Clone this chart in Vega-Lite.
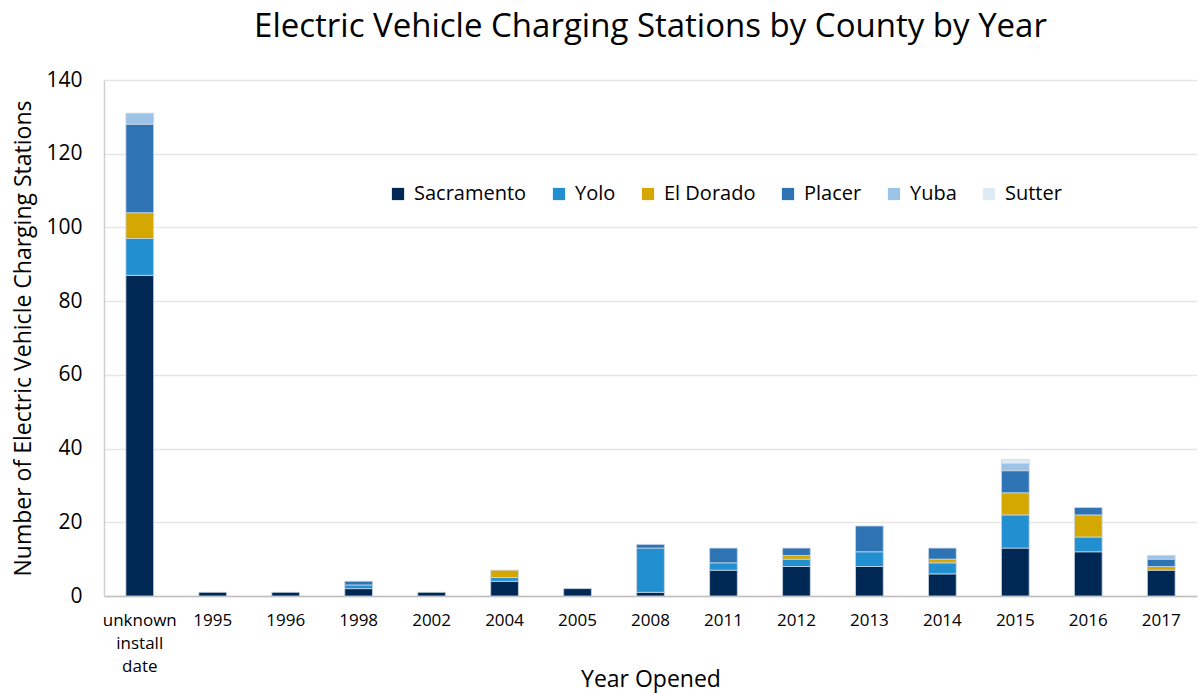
{
  "$schema": "https://vega.github.io/schema/vega-lite/v6.json",
  "width": 1199,
  "height": 693,
  "autosize": {"type": "fit", "contains": "padding"},
  "padding": {"left": 12, "right": 2, "top": 11, "bottom": 2},
  "background": "white",
  "title": {"text": "Electric Vehicle Charging Stations by County by Year", "font": "Open Sans", "fontSize": 33, "fontWeight": "normal", "color": "#000000", "offset": 25},
  "config": {
    "view": {"stroke": null},
    "font": "Open Sans"
  },
  "datasets": {
    "stations": [
      {"year": "unknown install date", "county": "Sacramento", "order": 1, "count": 87},
      {"year": "unknown install date", "county": "Yolo", "order": 2, "count": 10},
      {"year": "unknown install date", "county": "El Dorado", "order": 3, "count": 7},
      {"year": "unknown install date", "county": "Placer", "order": 4, "count": 24},
      {"year": "unknown install date", "county": "Yuba", "order": 5, "count": 3},
      {"year": "1995", "county": "Sacramento", "order": 1, "count": 1},
      {"year": "1996", "county": "Sacramento", "order": 1, "count": 1},
      {"year": "1998", "county": "Sacramento", "order": 1, "count": 2},
      {"year": "1998", "county": "Yolo", "order": 2, "count": 1},
      {"year": "1998", "county": "Placer", "order": 4, "count": 1},
      {"year": "2002", "county": "Sacramento", "order": 1, "count": 1},
      {"year": "2004", "county": "Sacramento", "order": 1, "count": 4},
      {"year": "2004", "county": "Yolo", "order": 2, "count": 1},
      {"year": "2004", "county": "El Dorado", "order": 3, "count": 2},
      {"year": "2005", "county": "Sacramento", "order": 1, "count": 2},
      {"year": "2008", "county": "Sacramento", "order": 1, "count": 1},
      {"year": "2008", "county": "Yolo", "order": 2, "count": 12},
      {"year": "2008", "county": "Placer", "order": 4, "count": 1},
      {"year": "2011", "county": "Sacramento", "order": 1, "count": 7},
      {"year": "2011", "county": "Yolo", "order": 2, "count": 2},
      {"year": "2011", "county": "Placer", "order": 4, "count": 4},
      {"year": "2012", "county": "Sacramento", "order": 1, "count": 8},
      {"year": "2012", "county": "Yolo", "order": 2, "count": 2},
      {"year": "2012", "county": "El Dorado", "order": 3, "count": 1},
      {"year": "2012", "county": "Placer", "order": 4, "count": 2},
      {"year": "2013", "county": "Sacramento", "order": 1, "count": 8},
      {"year": "2013", "county": "Yolo", "order": 2, "count": 4},
      {"year": "2013", "county": "Placer", "order": 4, "count": 7},
      {"year": "2014", "county": "Sacramento", "order": 1, "count": 6},
      {"year": "2014", "county": "Yolo", "order": 2, "count": 3},
      {"year": "2014", "county": "El Dorado", "order": 3, "count": 1},
      {"year": "2014", "county": "Placer", "order": 4, "count": 3},
      {"year": "2015", "county": "Sacramento", "order": 1, "count": 13},
      {"year": "2015", "county": "Yolo", "order": 2, "count": 9},
      {"year": "2015", "county": "El Dorado", "order": 3, "count": 6},
      {"year": "2015", "county": "Placer", "order": 4, "count": 6},
      {"year": "2015", "county": "Yuba", "order": 5, "count": 2},
      {"year": "2015", "county": "Sutter", "order": 6, "count": 1},
      {"year": "2016", "county": "Sacramento", "order": 1, "count": 12},
      {"year": "2016", "county": "Yolo", "order": 2, "count": 4},
      {"year": "2016", "county": "El Dorado", "order": 3, "count": 6},
      {"year": "2016", "county": "Placer", "order": 4, "count": 2},
      {"year": "2017", "county": "Sacramento", "order": 1, "count": 7},
      {"year": "2017", "county": "El Dorado", "order": 3, "count": 1},
      {"year": "2017", "county": "Placer", "order": 4, "count": 2},
      {"year": "2017", "county": "Yuba", "order": 5, "count": 1}
    ]
  },
  "data": {"name": "stations"},
  "mark": {"type": "bar", "stroke": "#c9d6e6", "strokeWidth": 0.8},
  "encoding": {
    "x": {
      "field": "year", "type": "nominal",
      "sort": ["unknown install date", "1995", "1996", "1998", "2002", "2004", "2005", "2008", "2011", "2012", "2013", "2014", "2015", "2016", "2017"],
      "scale": {"paddingInner": 0.62, "paddingOuter": 0.3},
      "axis": {
        "title": "Year Opened", "titleFont": "Open Sans", "titleFontSize": 23, "titleFontWeight": "normal", "titleColor": "#000", "titlePadding": -6,
        "labelAngle": 0, "labelFont": "Open Sans", "labelFontSize": 17, "labelColor": "#000", "labelPadding": 16,
        "labelExpr": "datum.value == 'unknown install date' ? ['unknown', 'install', 'date'] : datum.value",
        "labelLineHeight": 23,
        "ticks": false, "domainColor": "#bfbfbf", "domainWidth": 1.5
      }
    },
    "y": {
      "field": "count", "type": "quantitative", "aggregate": "sum", "stack": "zero",
      "scale": {"domain": [0, 140]},
      "axis": {
        "title": "Number of Electric Vehicle Charging Stations", "titleFont": "Open Sans", "titleFontSize": 23, "titleFontWeight": "normal", "titleColor": "#000", "titlePadding": 10,
        "values": [0, 20, 40, 60, 80, 100, 120, 140],
        "labelFont": "Open Sans", "labelFontSize": 21, "labelColor": "#000", "labelPadding": 22,
        "ticks": false, "domain": true, "domainColor": "#d0d0d0", "domainWidth": 1.5,
        "grid": true, "gridColor": "#e6e6e6", "gridWidth": 1.5
      }
    },
    "color": {
      "field": "county", "type": "nominal",
      "scale": {
        "domain": ["Sacramento", "Yolo", "El Dorado", "Placer", "Yuba", "Sutter"],
        "range": ["#002855", "#228fd0", "#d4a800", "#2e74b5", "#9dc3e6", "#deebf7"]
      },
      "legend": {
        "title": null, "orient": "none", "direction": "horizontal",
        "legendX": 284, "legendY": 104,
        "symbolType": "square", "symbolSize": 150, "symbolStrokeWidth": 0,
        "labelFont": "Open Sans", "labelFontSize": 20, "labelColor": "#000",
        "columnPadding": 22, "labelOffset": 6
      }
    },
    "order": {"field": "order", "type": "quantitative", "aggregate": "min"}
  }
}
